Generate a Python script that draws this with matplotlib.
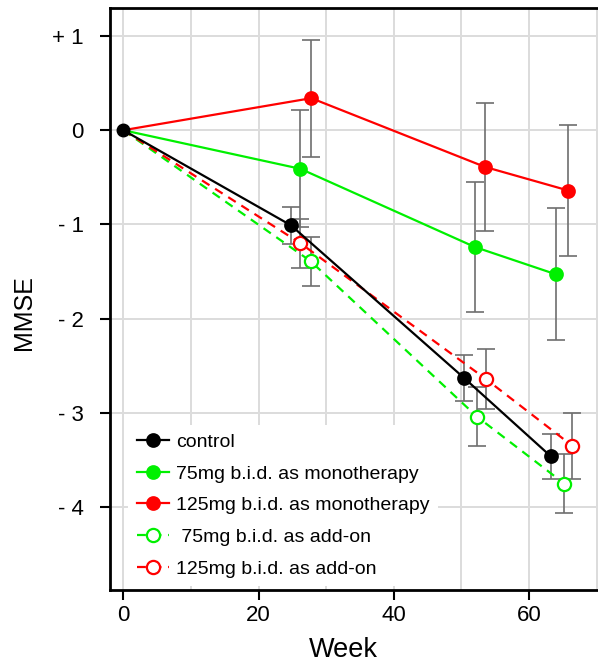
import matplotlib
matplotlib.use("Agg")
import matplotlib.pyplot as plt
from matplotlib.lines import Line2D

# ---- data ----
labels = ["control", "75mg b.i.d. as monotherapy", "125mg b.i.d. as monotherapy",
          " 75mg b.i.d. as add-on", "125mg b.i.d. as add-on"]

weeks_control = [0, 24.8, 50.4, 63.2]
mmse_control = [0, -1.01, -2.63, -3.46]
err_control = [0, 0.20, 0.24, 0.24]

weeks_mono75 = [0, 26.2, 52.0, 64.0]
mmse_mono75 = [0, -0.41, -1.24, -1.53]
err_mono75 = [0, 0.62, 0.69, 0.70]

weeks_mono125 = [0, 27.8, 53.5, 65.8]
mmse_mono125 = [0, 0.34, -0.39, -0.64]
err_mono125 = [0, 0.62, 0.68, 0.69]

weeks_add75 = [0, 27.7, 52.3, 65.2]
mmse_add75 = [0, -1.39, -3.04, -3.75]
err_add75 = [0, 0.26, 0.31, 0.31]

weeks_add125 = [0, 26.2, 53.6, 66.4]
mmse_add125 = [0, -1.20, -2.64, -3.35]
err_add125 = [0, 0.26, 0.32, 0.35]

xticks = [0, 20, 40, 60]
yticks = [-4, -3, -2, -1, 0, 1]
ytick_labels = ["- 4", "- 3", "- 2", "- 1", "0", "+ 1"]

plt.rcParams['font.family'] = ['Liberation Sans', 'DejaVu Sans']

fig = plt.figure(figsize=(5.98, 6.70), dpi=100)
ax = fig.add_axes([110/598, 80/670, 488/598, 582/670])

GREEN = "#00f000"
RED = "#ff0000"
BLACK = "#000000"
ERRC = "#6e6e6e"

series = [
    (weeks_control, mmse_control, err_control, BLACK, '-', BLACK),
    (weeks_mono75, mmse_mono75, err_mono75, GREEN, '-', GREEN),
    (weeks_mono125, mmse_mono125, err_mono125, RED, '-', RED),
    (weeks_add75, mmse_add75, err_add75, GREEN, (0, (4, 3)), 'white'),
    (weeks_add125, mmse_add125, err_add125, RED, (0, (4, 3)), 'white'),
]

handles = []
order_z = [6, 4, 4, 5, 5]
for (w, m, e, c, ls, fc), lab, z in zip(series, labels, order_z):
    ax.errorbar(w[1:], m[1:], yerr=e[1:], fmt='none', ecolor=ERRC, elinewidth=1.2,
                capsize=6.5, capthick=1.2, zorder=2)
    ax.plot(w, m, color=c, linestyle=ls, linewidth=1.6, zorder=z)
    ms = 9 if fc != 'white' else 9.5
    ax.plot(w[1:], m[1:], linestyle='none', marker='o', markersize=ms,
            markerfacecolor=fc, markeredgecolor=c, markeredgewidth=1.6, zorder=z + 0.5)
    handles.append(Line2D([], [], color=c, linestyle=ls, linewidth=1.6, marker='o',
                          markersize=ms, markerfacecolor=fc, markeredgecolor=c,
                          markeredgewidth=1.6))
# origin point
ax.plot([weeks_control[0]], [mmse_control[0]], marker='o', markersize=9, color=BLACK,
        linestyle='none', zorder=8)

ax.set_xlim(-1.97, 70.2)
ax.set_ylim(-4.88, 1.297)
ax.set_xticks(xticks)
ax.set_yticks(yticks)
ax.set_yticklabels(ytick_labels)
ax.set_xticks([10, 30, 50, 70], minor=True)
ax.grid(True, which='both', color='#dcdcdc', linewidth=1.4, zorder=0)
ax.set_axisbelow(True)
ax.tick_params(axis='both', which='major', labelsize=16, length=7, width=1.5, direction='out')
ax.tick_params(axis='y', which='major', pad=12)
ax.tick_params(axis='x', which='major', pad=4)
ax.tick_params(axis='x', which='minor', length=0)
for s in ['left', 'bottom', 'top']:
    ax.spines[s].set_linewidth(2)
ax.spines['right'].set_visible(False)

ax.set_xlabel("Week", fontsize=19.5, va='center')
ax.set_ylabel("MMSE", fontsize=18, va='center')
ax.xaxis.set_label_coords((343 - 110) / 488, -(650 - 590) / 582)
ax.yaxis.set_label_coords(-(110 - 24) / 488, (590 - 313) / 582)

leg = ax.legend(handles, labels, loc='upper left', bbox_to_anchor=(0.037, 0.284),
                borderaxespad=0, frameon=True, fancybox=False, framealpha=1,
                facecolor='white', edgecolor='none', fontsize=14,
                handlelength=1.65, handletextpad=0.36, labelspacing=0.72, borderpad=0.45)
leg.set_zorder(3)

fig.savefig("out.png", dpi=100)
